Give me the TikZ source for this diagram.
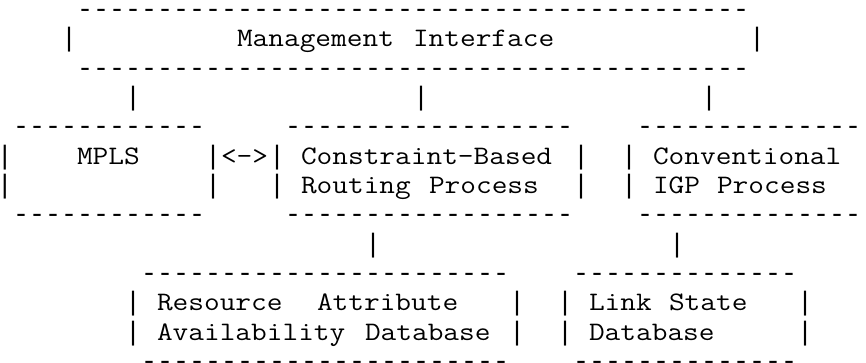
\documentclass[tikz,border=0pt]{standalone}
\usepackage{fontspec}
\setmonofont{Liberation Mono}
\newfontfamily\wordfont{Latin Modern Mono}[FakeStretch=1.1429]
\newcommand\dashrun[1]{\foreach \i in {1,...,#1}{-}}
\tikzset{
  txt/.style={anchor=base west, inner sep=0pt, outer sep=0pt, text=black,
    font=\wordfont\fontsize{26.67}{29.3}\selectfont},
  rul/.style={anchor=base west, inner sep=0pt, outer sep=0pt, text=black,
    font=\ttfamily\fontsize{26.67}{29.3}\selectfont}
}
% #1 style, #2 name, #3 column, #4 row, #5 text
\newcommand\glyphs[5]{\node[#1] (#2) at ({-3pt+16pt*#3}, {-17.7pt-29.3pt*(#4-1)}) {#5};}
\begin{document}
\begin{tikzpicture}
\useasboundingbox[fill=white] (0pt,0pt) rectangle (866pt,-363pt);
% Management Interface box
\glyphs{rul}{mgmtTop}{5}{1}{\dashrun{42}}
\glyphs{rul}{mgmtL}{4}{2}{|}
\glyphs{txt}{mgmtW1}{15}{2}{Management}
\glyphs{txt}{mgmtW2}{26}{2}{Interface}
\glyphs{rul}{mgmtR}{47}{2}{|}
\glyphs{rul}{mgmtBot}{5}{3}{\dashrun{42}}
% links down from management
\glyphs{rul}{linkA}{8}{4}{|}
\glyphs{rul}{linkB}{26}{4}{|}
\glyphs{rul}{linkC}{44}{4}{|}
% MPLS box
\glyphs{rul}{mplsTop}{1}{5}{\dashrun{12}}
\glyphs{rul}{mplsL1}{0}{6}{|}
\glyphs{txt}{mplsW}{5}{6}{MPLS}
\glyphs{rul}{mplsR1}{13}{6}{|}
\glyphs{txt}{mplsArrow}{14}{6}{<->}
\glyphs{rul}{cbrL1}{17}{6}{|}
\glyphs{rul}{mplsL2}{0}{7}{|}
\glyphs{rul}{mplsR2}{13}{7}{|}
\glyphs{rul}{mplsBot}{1}{8}{\dashrun{12}}
% Constraint-Based Routing Process box
\glyphs{rul}{cbrTop}{18}{5}{\dashrun{18}}
\glyphs{txt}{cbrW1}{19}{6}{Constraint-Based}
\glyphs{rul}{cbrR1}{36}{6}{|}
\glyphs{rul}{cbrL2}{17}{7}{|}
\glyphs{txt}{cbrW2}{19}{7}{Routing}
\glyphs{txt}{cbrW3}{27}{7}{Process}
\glyphs{rul}{cbrR2}{36}{7}{|}
\glyphs{rul}{cbrBot}{18}{8}{\dashrun{18}}
% Conventional IGP Process box
\glyphs{rul}{igpTop}{40}{5}{\dashrun{14}}
\glyphs{rul}{igpL1}{39}{6}{|}
\glyphs{txt}{igpW1}{41}{6}{Conventional}
\glyphs{rul}{igpL2}{39}{7}{|}
\glyphs{txt}{igpW2}{41}{7}{IGP}
\glyphs{txt}{igpW3}{45}{7}{Process}
\glyphs{rul}{igpBot}{40}{8}{\dashrun{14}}
% links down
\glyphs{rul}{linkD}{23}{9}{|}
\glyphs{rul}{linkE}{42}{9}{|}
% Resource Attribute Availability Database box
\glyphs{rul}{radTop}{9}{10}{\dashrun{23}}
\glyphs{rul}{radL1}{8}{11}{|}
\glyphs{txt}{radW1}{10}{11}{Resource}
\glyphs{txt}{radW2}{20}{11}{Attribute}
\glyphs{rul}{radR1}{32}{11}{|}
\glyphs{rul}{radL2}{8}{12}{|}
\glyphs{txt}{radW3}{10}{12}{Availability}
\glyphs{txt}{radW4}{23}{12}{Database}
\glyphs{rul}{radR2}{32}{12}{|}
\glyphs{rul}{radBot}{9}{13}{\dashrun{23}}
% Link State Database box
\glyphs{rul}{lsdTop}{36}{10}{\dashrun{14}}
\glyphs{rul}{lsdL1}{35}{11}{|}
\glyphs{txt}{lsdW1}{37}{11}{Link}
\glyphs{txt}{lsdW2}{42}{11}{State}
\glyphs{rul}{lsdR1}{50}{11}{|}
\glyphs{rul}{lsdL2}{35}{12}{|}
\glyphs{txt}{lsdW3}{37}{12}{Database}
\glyphs{rul}{lsdR2}{50}{12}{|}
\glyphs{rul}{lsdBot}{36}{13}{\dashrun{14}}
\end{tikzpicture}
\end{document}
